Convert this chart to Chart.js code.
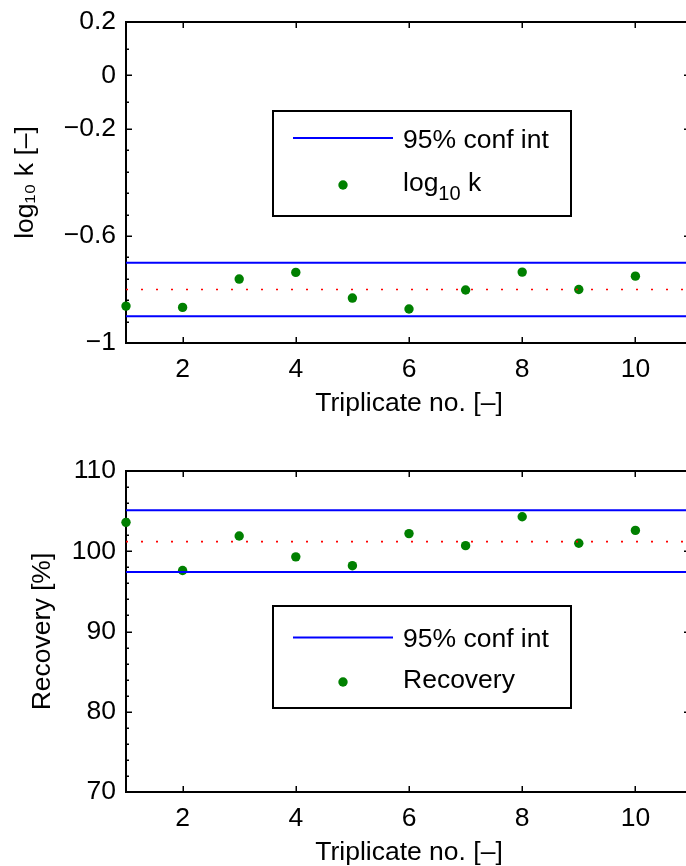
<!DOCTYPE html>
<html><head><meta charset="utf-8">
<script src="https://cdn.jsdelivr.net/npm/chart.js@4.4.1/dist/chart.umd.min.js"></script>
<style>
html,body{margin:0;padding:0;background:#fff;overflow:hidden;width:686px;height:866px;}
.wrap{position:absolute;left:0;width:720px;height:420px;}
canvas{display:block;}
</style></head><body>
<div class="wrap" style="top:0px"><canvas id="c1" width="720" height="420"></canvas></div>
<div class="wrap" style="top:449px"><canvas id="c2" width="720" height="420"></canvas></div>
<script>
// ---- data ----
const triplicateNo = [1, 2, 3, 4, 5, 6, 7, 8, 9, 10];
const log10k = [-0.862, -0.867, -0.761, -0.736, -0.832, -0.873, -0.802, -0.735, -0.800, -0.750];
const log10kConfInt = [-0.900, -0.700];
const log10kMean = -0.800;
const recovery = [103.6, 97.6, 101.9, 99.3, 98.2, 102.2, 100.7, 104.3, 101.0, 102.6];
const recoveryConfInt = [97.4, 105.1];
const recoveryMean = 101.2;
const xRange = [1, 11];
const xTickValues = [2, 4, 6, 8, 10];
const log10kRange = [-1, 0.2];
const log10kTickLabels = [0.2, 0, -0.2, -0.6, -1];
const log10kMinorTicks = [0.1, -0.1, -0.28, -0.36, -0.44, -0.52, -0.68, -0.76, -0.84, -0.92];
const recoveryRange = [70, 110];
const recoveryTickLabels = [70, 80, 90, 100, 110];
const recoveryMinorTicks = [72, 74, 76, 78, 82, 84, 86, 88, 92, 94, 96, 98, 102, 104, 106, 108];

const FAMILY = "'Liberation Sans', Arial, Helvetica, 'DejaVu Sans', sans-serif";
const FS = 26.5;
const FONT = {family: FAMILY, size: FS, lineHeight: 1.2};
Chart.defaults.color = '#000';
Chart.defaults.font.family = FAMILY;

const fmt = v => {
  const s = String(Math.round(v * 1000) / 1000);
  return s.replace('-', '\u2212');
};

const matlabAxes = {
  id: 'matlabAxes',
  beforeDatasetsDraw(chart, args, o) {
    const {ctx, chartArea: {left, right, top, bottom}, scales: {x, y}} = chart;
    ctx.save();
    ctx.strokeStyle = '#000';
    ctx.lineWidth = 1.5;
    ctx.beginPath();
    o.xMajor.forEach(v => {
      const px = Math.round(x.getPixelForValue(v)) + 0.25;
      ctx.moveTo(px, bottom); ctx.lineTo(px, bottom - 6);
      ctx.moveTo(px, top); ctx.lineTo(px, top + 6);
    });
    o.yMajor.forEach(v => {
      const py = Math.round(y.getPixelForValue(v)) + 0.25;
      ctx.moveTo(left, py); ctx.lineTo(left + 6, py);
      ctx.moveTo(right, py); ctx.lineTo(right - 8, py);
    });
    o.yMinor.forEach(v => {
      const py = Math.round(y.getPixelForValue(v)) + 0.25;
      ctx.moveTo(left, py); ctx.lineTo(left + 3, py);
      ctx.moveTo(right, py); ctx.lineTo(right - 3, py);
    });
    ctx.stroke();
    ctx.lineWidth = 2;
    ctx.beginPath();
    ctx.moveTo(left - 1, top); ctx.lineTo(right, top); ctx.lineTo(right, bottom + 1);
    ctx.stroke();
    ctx.restore();
  },
  afterDraw(chart, args, o) {
    const L = o.legend;
    const {ctx} = chart;
    const ds = chart.data.datasets;
    ctx.save();
    ctx.fillStyle = '#fff';
    ctx.fillRect(L.x, L.y, L.w, L.h);
    ctx.strokeStyle = '#000';
    ctx.lineWidth = 2;
    ctx.strokeRect(L.x, L.y, L.w, L.h);
    // line sample
    ctx.strokeStyle = ds[0].borderColor;
    ctx.lineWidth = 2;
    ctx.beginPath();
    ctx.moveTo(L.x + 20, L.y + L.row1); ctx.lineTo(L.x + 120, L.y + L.row1);
    ctx.stroke();
    // dot sample
    ctx.fillStyle = ds[3].backgroundColor;
    ctx.beginPath();
    ctx.arc(L.x + 70, L.y + L.row2, 4.7, 0, Math.PI * 2);
    ctx.fill();
    // texts
    ctx.fillStyle = '#000';
    ctx.textBaseline = 'alphabetic';
    ctx.textAlign = 'left';
    ctx.font = FS + 'px ' + FAMILY;
    const tx = L.x + 130;
    ctx.fillText(ds[0].label, tx, L.y + L.row1 + 9.5);
    let cx = tx;
    L.second.forEach(part => {
      ctx.font = (part.sub ? '20px ' : FS + 'px ') + FAMILY;
      ctx.fillText(part.t, cx, L.y + L.row2 + 5.5 + (part.sub ? 9.5 : 0));
      cx += ctx.measureText(part.t).width;
    });
    ctx.restore();
  }
};

function makeChart(id, cfg) {
  const lineDs = (label, yv, color, width, dash) => ({
    type: 'scatter', label, showLine: true,
    data: xRange.map(xv => ({x: xv, y: yv})),
    borderColor: color, backgroundColor: color, borderWidth: width,
    borderDash: dash || [], pointRadius: 0, pointHoverRadius: 0, fill: false
  });
  return new Chart(document.getElementById(id), {
    type: 'scatter',
    data: {
      datasets: [
        lineDs('95% conf int', cfg.ci[1], '#0000ff', 2),
        lineDs('lower', cfg.ci[0], '#0000ff', 2),
        lineDs('mean', cfg.mean, '#ff0000', 1.6, [2, 13]),
        {
          type: 'scatter', label: cfg.name,
          data: triplicateNo.map((xv, i) => ({x: xv, y: cfg.values[i]})),
          backgroundColor: '#008000', borderColor: '#008000',
          pointRadius: 4.7, pointBorderWidth: 0, pointHoverRadius: 4.7, clip: false
        }
      ]
    },
    options: {
      responsive: false,
      animation: false,
      events: [],
      layout: {padding: {top: 22, right: 28, bottom: 0, left: 0}},
      plugins: {
        legend: {display: false},
        tooltip: {enabled: false},
        matlabAxes: {
          xMajor: xTickValues, yMajor: cfg.yTicks, yMinor: cfg.yMinor,
          legend: cfg.legend
        }
      },
      scales: {
        x: {
          type: 'linear', min: xRange[0], max: xRange[1],
          afterBuildTicks: s => { s.ticks = xTickValues.map(v => ({value: v})); },
          ticks: {font: FONT, color: '#000', padding: 11, maxRotation: 0, autoSkip: false, callback: v => fmt(v)},
          grid: {display: false, drawTicks: false},
          border: {display: true, color: '#000', width: 2},
          title: {display: true, text: 'Triplicate no. [\u2013]', font: FONT, color: '#000', padding: {top: 0, bottom: 0.8}},
          afterFit: s => { s.height = 77; s.paddingLeft = 0; s.paddingRight = 0; }
        },
        y: {
          type: 'linear', min: cfg.range[0], max: cfg.range[1],
          afterBuildTicks: s => { s.ticks = cfg.yTicks.slice().sort((a, b) => a - b).map(v => ({value: v})); },
          ticks: {font: FONT, color: '#000', padding: 10, autoSkip: false, callback: v => fmt(v)},
          grid: {display: false, drawTicks: false},
          border: {display: true, color: '#000', width: 2},
          title: {display: true, text: cfg.yTitle, font: FONT, color: '#000', padding: {top: cfg.yTitlePad, bottom: 0}},
          afterFit: s => { s.width = 126; s.paddingTop = 0; s.paddingBottom = 0; }
        }
      }
    },
    plugins: [matlabAxes]
  });
}

makeChart('c1', {
  name: 'log\u2081\u2080 k',
  values: log10k, ci: log10kConfInt, mean: log10kMean,
  range: log10kRange, yTicks: log10kTickLabels, yMinor: log10kMinorTicks,
  yTitle: 'log\u2081\u2080 k [\u2013]', yTitlePad: 10,
  legend: {x: 273, y: 111, w: 298, h: 105, row1: 27, row2: 74, second: [{t: 'log'}, {t: '10', sub: true}, {t: ' k'}]}
});
makeChart('c2', {
  name: 'Recovery',
  values: recovery, ci: recoveryConfInt, mean: recoveryMean,
  range: recoveryRange, yTicks: recoveryTickLabels, yMinor: recoveryMinorTicks,
  yTitle: 'Recovery [%]', yTitlePad: 26.5,
  legend: {x: 273, y: 157, w: 298, h: 102, row1: 31.5, row2: 76, second: [{t: 'Recovery'}]}
});
</script>
</body></html>
